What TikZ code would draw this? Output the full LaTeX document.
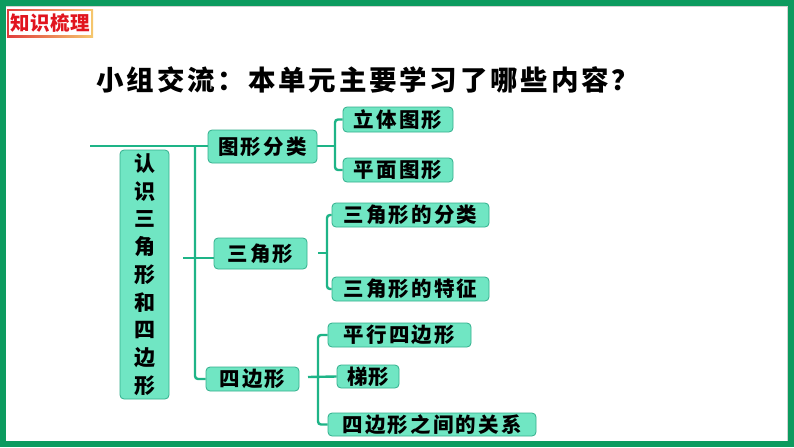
\documentclass[tikz,border=0pt]{standalone}
\usepackage{fontspec}
\usetikzlibrary{backgrounds}
\newfontfamily\cjk{Noto Sans CJK SC}
\definecolor{framegreen}{RGB}{12,155,95}
\definecolor{boxfill}{RGB}{112,230,195}
\definecolor{boxline}{RGB}{50,175,140}
\definecolor{connc}{RGB}{30,180,135}
\definecolor{labred}{RGB}{225,20,30}
\newlength\cpitch
\setlength\cpitch{22.7pt}
\def\spc#1{\cjkloop#1\relax}
\def\cjkloop#1{\ifx\relax#1\else\makebox[\cpitch]{#1}\expandafter\cjkloop\fi}
\tikzset{
  leaf/.style={draw=boxline, fill=boxfill, rounded corners=4pt, line width=0.8pt,
    inner sep=0pt, font=\cjk\bfseries\fontsize{20.5}{20.5}\selectfont},
  conn/.style={draw=connc, line width=2.4pt},
  bracket/.style={conn, rounded corners=3pt}
}
\begin{document}
\begin{tikzpicture}[x=1pt,y=-1pt]
\useasboundingbox (0,0) rectangle (794,447);
% label
\shade[left color={rgb,255:red,225;green,60;blue,60}, right color={rgb,255:red,245;green,200;blue,110}] (7,9) rectangle (93,37);
\fill[white] (9,11) rectangle (91,35);
\node (lab) at (50,23.5) {\cjk\bfseries\fontsize{19.5}{19.5}\selectfont\color{labred}\setlength\cpitch{20pt}\spc{知识梳理}};
% title
\node (title) at (368,80) {\cjk\bfseries\fontsize{27.5}{27.5}\selectfont\setlength\cpitch{30.3pt}\spc{小组交流：本单元主要学习了哪些内容？}};
% main vertical box
\node[leaf, minimum width=49, minimum height=249, align=center,
  font=\cjk\bfseries\fontsize{21}{27.75}\selectfont] (root) at (144.5,274.5)
  {认\\识\\三\\角\\形\\和\\四\\边\\形};
% second level
\node[leaf, minimum width=109, minimum height=33] (tx) at (262.5,146.5) {\spc{图形分类}};
\node[leaf, minimum width=93, minimum height=31] (sj) at (260.5,253.5) {\spc{三角形}};
\node[leaf, minimum width=93, minimum height=24] (sb) at (252.5,379) {\spc{四边形}};
% third level
\node[leaf, minimum width=110, minimum height=25] (lt) at (398,119.5) {\spc{立体图形}};
\node[leaf, minimum width=110, minimum height=24] (pm) at (398,170) {\spc{平面图形}};
\node[leaf, minimum width=157, minimum height=24] (fl) at (410.5,215) {\spc{三角形的分类}};
\node[leaf, minimum width=157, minimum height=24] (tz) at (410.5,289) {\spc{三角形的特征}};
\node[leaf, minimum width=143, minimum height=24] (px) at (399.5,335) {\spc{平行四边形}};
\node[leaf, minimum width=62, minimum height=23] (tix) at (368,376.5) {\setlength\cpitch{21.5pt}\spc{梯形}};
\node[leaf, minimum width=208, minimum height=23] (gx) at (432,424.5) {\spc{四边形之间的关系}};
% connector coordinates
\coordinate (L) at (90,146);
\coordinate (t) at (195,146);
\coordinate (b1) at (335,146);
\coordinate (s0) at (183,258);
\coordinate (b2s) at (318,253);
\coordinate (b2) at (327,253);
\coordinate (b3s) at (308,377);
\coordinate (b3) at (318,377);
\begin{pgfonlayer}{background}
% frame
\fill[framegreen] (0,0) rectangle (794,447);
\fill[white] (6,6) rectangle (788,441);
\draw[gray!35, line width=1pt] (6,6.5) -- (787.5,6.5) -- (787.5,441);
% connectors
\draw[conn] (L) -- (b1);
\draw[bracket] (t) |- (sb.west);
\draw[conn] (s0) -- (s0 -| sj.west);
\draw[bracket] (lt.west) -| (b1) |- (pm.west);
\draw[conn] (b2s) -- (b2);
\draw[bracket] (fl.west) -| (b2) |- (tz.west);
\draw[conn] (b3s) -- (tix.west);
\draw[bracket] (px.west) -| (b3) |- (gx.west);
\end{pgfonlayer}
\end{tikzpicture}
\end{document}
